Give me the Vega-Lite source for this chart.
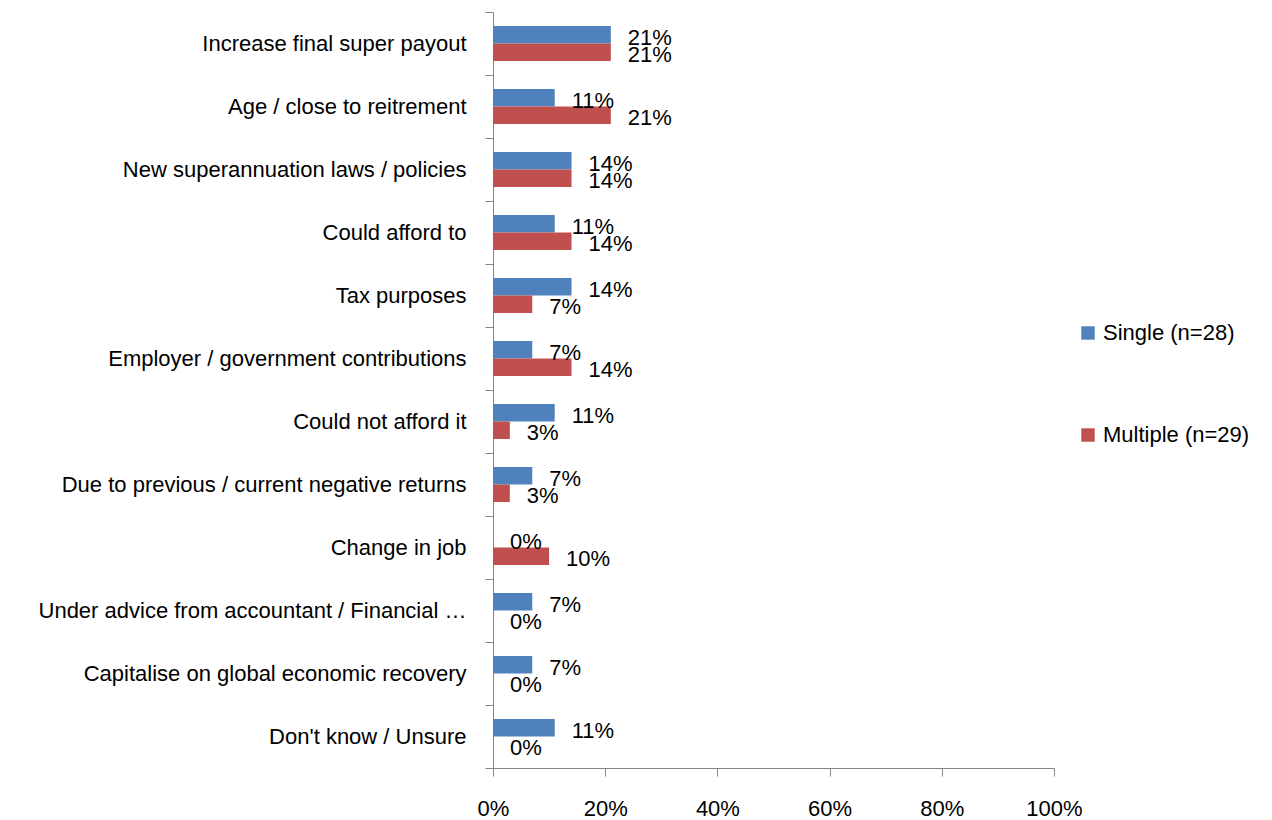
{
  "$schema": "https://vega.github.io/schema/vega-lite/v6.json",
  "autosize": "none",
  "width": 561,
  "height": 756,
  "padding": {"left": 493, "top": 12, "right": 218, "bottom": 52},
  "background": "white",
  "config": {
    "view": {"stroke": null},
    "font": "Liberation Sans",
    "axis": {"domainColor": "#868686", "tickColor": "#868686", "labelColor": "#000000", "labelFont": "Liberation Sans", "labelFontSize": 22, "grid": false, "title": null}
  },
  "data": {
    "values": [
      {"reason": "Increase final super payout", "series": "Single (n=28)", "value": 0.21},
      {"reason": "Increase final super payout", "series": "Multiple (n=29)", "value": 0.21},
      {"reason": "Age / close to reitrement", "series": "Single (n=28)", "value": 0.11},
      {"reason": "Age / close to reitrement", "series": "Multiple (n=29)", "value": 0.21},
      {"reason": "New superannuation laws / policies", "series": "Single (n=28)", "value": 0.14},
      {"reason": "New superannuation laws / policies", "series": "Multiple (n=29)", "value": 0.14},
      {"reason": "Could afford to", "series": "Single (n=28)", "value": 0.11},
      {"reason": "Could afford to", "series": "Multiple (n=29)", "value": 0.14},
      {"reason": "Tax purposes", "series": "Single (n=28)", "value": 0.14},
      {"reason": "Tax purposes", "series": "Multiple (n=29)", "value": 0.07},
      {"reason": "Employer / government contributions", "series": "Single (n=28)", "value": 0.07},
      {"reason": "Employer / government contributions", "series": "Multiple (n=29)", "value": 0.14},
      {"reason": "Could not afford it", "series": "Single (n=28)", "value": 0.11},
      {"reason": "Could not afford it", "series": "Multiple (n=29)", "value": 0.03},
      {"reason": "Due to previous / current negative returns", "series": "Single (n=28)", "value": 0.07},
      {"reason": "Due to previous / current negative returns", "series": "Multiple (n=29)", "value": 0.03},
      {"reason": "Change in job", "series": "Single (n=28)", "value": 0.0},
      {"reason": "Change in job", "series": "Multiple (n=29)", "value": 0.10},
      {"reason": "Under advice from accountant / Financial …", "series": "Single (n=28)", "value": 0.07},
      {"reason": "Under advice from accountant / Financial …", "series": "Multiple (n=29)", "value": 0.0},
      {"reason": "Capitalise on global economic recovery", "series": "Single (n=28)", "value": 0.07},
      {"reason": "Capitalise on global economic recovery", "series": "Multiple (n=29)", "value": 0.0},
      {"reason": "Don't know / Unsure", "series": "Single (n=28)", "value": 0.11},
      {"reason": "Don't know / Unsure", "series": "Multiple (n=29)", "value": 0.0}
    ]
  },
  "encoding": {
    "y": {
      "field": "reason", "type": "nominal", "sort": null,
      "scale": {"paddingInner": 0, "paddingOuter": 0},
      "axis": {"tickBand": "extent", "tickSize": 8, "labelPadding": 19, "labelLimit": 600, "labelAlign": "right"}
    },
    "yOffset": {"field": "series", "type": "nominal", "sort": ["Single (n=28)", "Multiple (n=29)"], "scale": {"paddingInner": 0, "paddingOuter": 0.8}},
    "x": {
      "field": "value", "type": "quantitative",
      "scale": {"domain": [0, 1], "nice": false},
      "axis": {"format": ".0%", "values": [0, 0.2, 0.4, 0.6, 0.8, 1.0], "tickSize": 8, "labelPadding": 22, "labelFlush": false}
    }
  },
  "layer": [
    {
      "mark": {"type": "bar"},
      "encoding": {
        "color": {
          "field": "series", "type": "nominal",
          "sort": ["Single (n=28)", "Multiple (n=29)"],
          "scale": {"domain": ["Single (n=28)", "Multiple (n=29)"], "range": ["#4F81BD", "#C0504D"]},
          "legend": {"title": null, "orient": "none", "legendX": 584, "legendY": 310, "symbolType": "square", "symbolSize": 180, "symbolStrokeWidth": 0, "labelFont": "Liberation Sans", "labelFontSize": 22, "labelColor": "#000000", "rowPadding": 80, "labelOffset": 4, "labelLimit": 300}
        }
      }
    },
    {
      "mark": {"type": "text", "align": "left", "baseline": "middle", "dx": 17, "dy": 3, "fontSize": 22, "font": "Liberation Sans", "color": "#000000"},
      "encoding": {
        "text": {"field": "value", "type": "quantitative", "format": ".0%"}
      }
    }
  ]
}
